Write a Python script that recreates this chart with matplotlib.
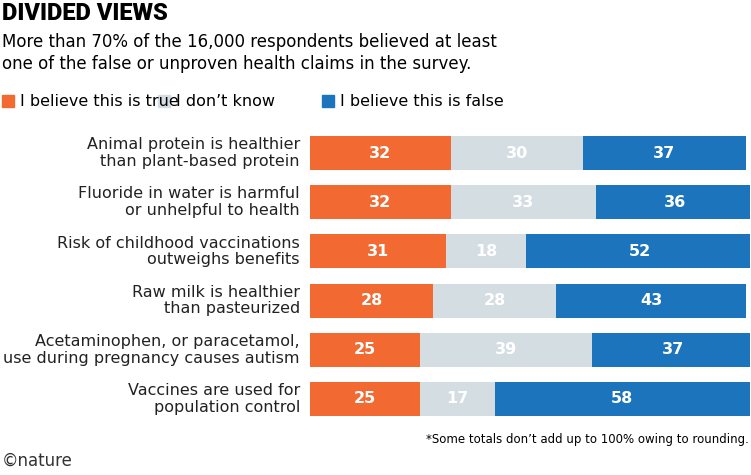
import matplotlib
matplotlib.use("Agg")
import matplotlib.pyplot as plt

categories = ["Animal protein is healthier\nthan plant-based protein",
              "Fluoride in water is harmful\nor unhelpful to health",
              "Risk of childhood vaccinations\noutweighs benefits",
              "Raw milk is healthier\nthan pasteurized",
              "Acetaminophen, or paracetamol,\nuse during pregnancy causes autism",
              "Vaccines are used for\npopulation control"]
true_vals = [32, 32, 31, 28, 25, 25]
dontknow_vals = [30, 33, 18, 28, 39, 17]
false_vals = [37, 36, 52, 43, 37, 58]
series_names = ["I believe this is true", "I don\u2019t know", "I believe this is false"]
colors = ["#F26A32", "#D4DDE2", "#1C75BC"]

W, H = 751, 475
fig = plt.figure(figsize=(W/100, H/100), dpi=100)
ax = fig.add_axes([310/W, 1-423.5/H, 440/W, (423.5-128.5)/H])
y = list(range(len(categories)))
left = [0]*len(y)
for vals, c in zip([true_vals, dontknow_vals, false_vals], colors):
    ax.barh(y, vals, left=left, color=c, height=0.69, linewidth=0)
    for i, v in enumerate(vals):
        ax.text(left[i]+v/2, i, str(v), ha="center", va="center", color="white",
                fontsize=11.5, fontweight="bold")
    left = [l+v for l, v in zip(left, vals)]
ax.set_xlim(0, 100)
ax.set_ylim(5.5, -0.5)
ax.axis("off")
for i, cat in enumerate(categories):
    ax.text(-2.3, i, cat, ha="right", va="center", fontsize=11.5, linespacing=1.15, color="#222222")

fig.text(2/W, 1-14/H, "DIVIDED VIEWS", fontsize=17, fontweight="heavy", va="center",
         family="Roboto", stretch="condensed")
fig.text(2/W, 1-42/H, "More than 70% of the 16,000 respondents believed at least", fontsize=12, va="center")
fig.text(2/W, 1-64/H, "one of the false or unproven health claims in the survey.", fontsize=12, va="center")
lx = [2, 158, 322]
for x, n, c in zip(lx, series_names, colors):
    fig.patches.append(plt.Rectangle((x/W, 1-107/H), 12/W, 12/H, color=c, transform=fig.transFigure))
    fig.text((x+18)/W, 1-101/H, n, fontsize=11.5, va="center")
fig.text(749/W, 1-440/H, "*Some totals don\u2019t add up to 100% owing to rounding.", fontsize=8.5,
         ha="right", va="center")
fig.text(2/W, 1-461/H, "\u00a9nature", fontsize=12, va="center", color="#333333")
fig.savefig("out.png", dpi=100)
